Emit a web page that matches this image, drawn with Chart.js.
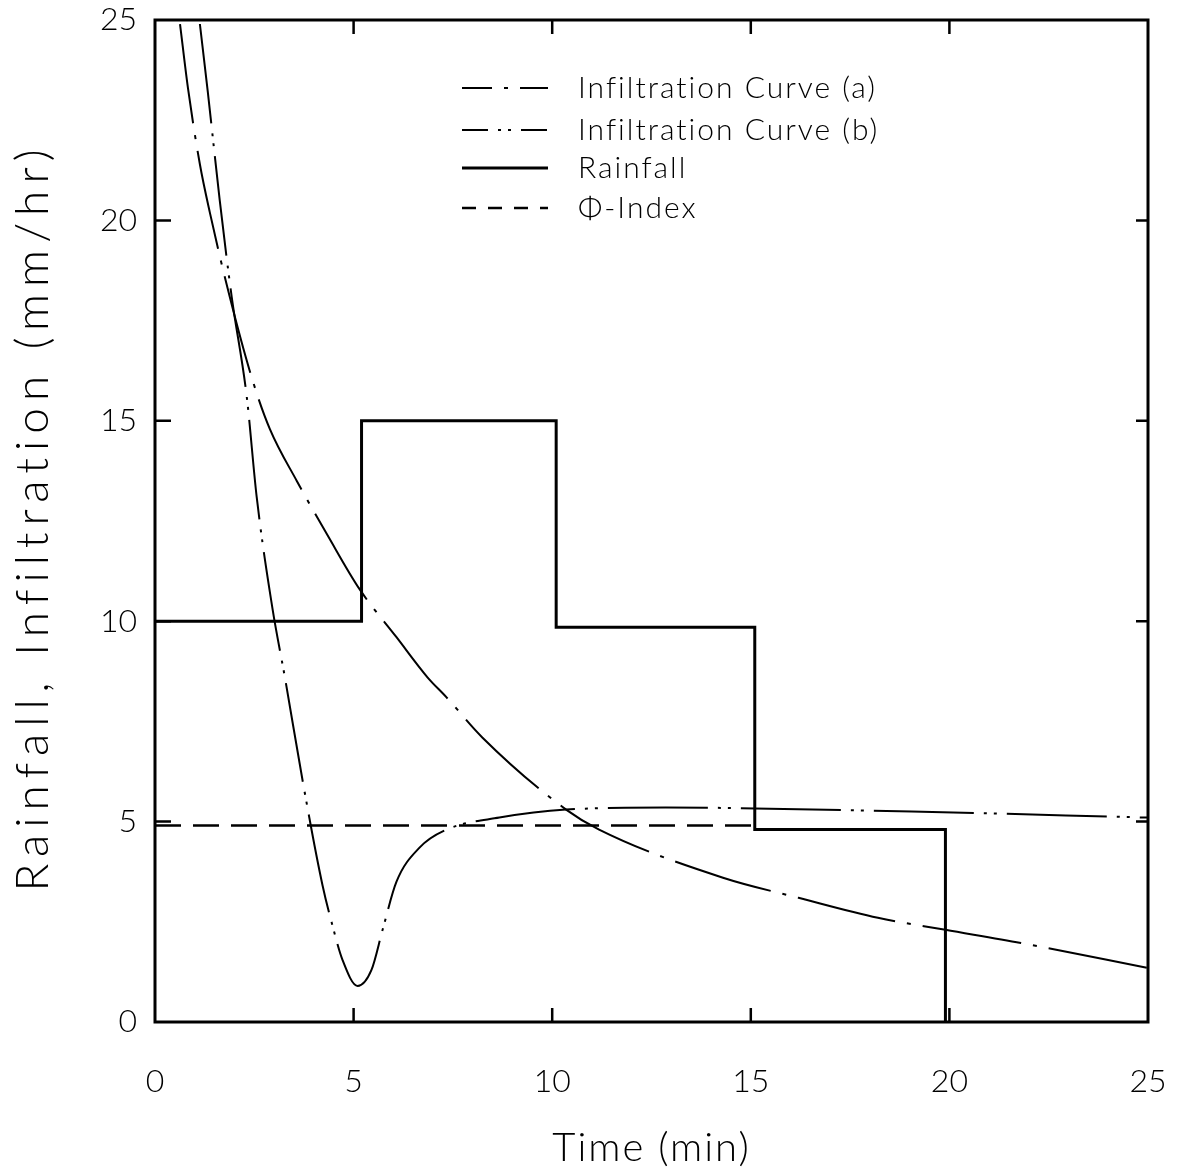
<!DOCTYPE html>
<html>
<head>
<meta charset="utf-8">
<script src="https://cdn.jsdelivr.net/npm/chart.js@4.4.1/dist/chart.umd.min.js"></script>
<style>
  html, body { margin: 0; padding: 0; background: #fff; }
  #wrap { width: 1179px; height: 1176px; }
</style>
</head>
<body>
<div id="wrap"><canvas id="infilChart" width="1179" height="1176"></canvas></div>
<script>
// values
const curveATime = [0.63, 0.83, 1.13, 1.38, 1.88, 2.46, 2.89, 3.57, 4.37, 5.15, 6.08, 6.86, 7.34, 8.24, 10.35, 11.18, 14.3, 16.2, 18.2, 19.9, 21.8, 25];
const curveARate = [24.9, 23.3, 21.4, 20.2, 18.1, 16.0, 14.8, 13.5, 12.1, 10.8, 9.6, 8.6, 8.1, 7.1, 5.3, 4.8, 3.6, 3.1, 2.6, 2.3, 1.97, 1.35];

const curveBTime = [1.13, 1.33, 1.63, 1.93, 2.31, 2.56, 2.96, 3.27, 3.72, 4.22, 4.47, 4.72, 5.1, 5.45, 5.73, 6.08, 6.66, 7.34, 8.67, 10.35, 12.86, 19.05, 25];
const curveBRate = [24.9, 23.2, 20.5, 18.1, 15.6, 13.1, 10.3, 8.6, 6.0, 3.4, 2.4, 1.55, 0.9, 1.3, 2.3, 3.5, 4.35, 4.8, 5.1, 5.3, 5.35, 5.25, 5.1];

const rainEdges = [0, 5.2, 10.1, 15.1, 19.9];
const rainRates = [10, 15, 9.85, 4.8, 0];

const phiTime = [0, 15.1];
const phiValue = [4.9, 4.9];

const xTicks = [0, 5, 10, 15, 20, 25];
const yTicks = [0, 5, 10, 15, 20, 25];

const xTitle = 'Time (min)';
const yTitle = 'Rainfall, Infiltration (mm/hr)';

function pts(xs, ys) {
  return xs.map((x, i) => ({ x: x, y: ys[i] }));
}

const FONT = "'Lato', 'DejaVu Sans', sans-serif";

// box, inward tick marks, titles and legend drawn on top of the chart
const framePlugin = {
  id: 'frame',
  afterDraw(chart) {
    const ctx = chart.ctx;
    const a = chart.chartArea;
    const xs = chart.scales.x, ys = chart.scales.y;
    ctx.save();
    ctx.strokeStyle = '#000';
    ctx.lineWidth = 3;
    ctx.strokeRect(a.left, a.top, a.right - a.left, a.bottom - a.top);
    ctx.lineWidth = 2.5;
    ctx.beginPath();
    xTicks.slice(1, -1).forEach(v => {
      const px = xs.getPixelForValue(v);
      ctx.moveTo(px, a.bottom); ctx.lineTo(px, a.bottom - 14);
      ctx.moveTo(px, a.top); ctx.lineTo(px, a.top + 14);
    });
    yTicks.slice(1, -1).forEach(v => {
      const py = ys.getPixelForValue(v);
      ctx.moveTo(a.left, py); ctx.lineTo(a.left + 16, py);
      ctx.moveTo(a.right, py); ctx.lineTo(a.right - 12, py);
    });
    ctx.stroke();

    ctx.fillStyle = '#000';
    ctx.textAlign = 'center';
    ctx.textBaseline = 'middle';

    // axis titles
    ctx.font = '300 40px ' + FONT;
    ctx.letterSpacing = '2px';
    ctx.fillText(xTitle, (a.left + a.right) / 2, 1148);
    ctx.save();
    ctx.translate(33, (a.top + a.bottom) / 2 - 4);
    ctx.rotate(-Math.PI / 2);
    ctx.font = '300 46px ' + FONT;
    ctx.letterSpacing = '7px';
    ctx.fillText(yTitle, 0, 0);
    ctx.restore();

    // legend
    const rows = [88, 130, 168, 208];
    ctx.font = '300 30px ' + FONT;
    ctx.letterSpacing = '2px';
    ctx.textAlign = 'left';
    chart.data.datasets.forEach((ds, i) => {
      const y = rows[i];
      ctx.beginPath();
      ctx.lineWidth = ds.borderWidth;
      ctx.setLineDash(ds.legendDash);
      ctx.moveTo(462, y); ctx.lineTo(548, y);
      ctx.stroke();
      ctx.setLineDash([]);
      ctx.fillText(ds.label, 578, y);
    });
    ctx.restore();
  }
};

new Chart(document.getElementById('infilChart'), {
  type: 'line',
  data: {
    datasets: [
      {
        label: 'Infiltration Curve (a)',
        data: pts(curveATime, curveARate),
        borderColor: '#000',
        borderWidth: 2,
        borderDash: [100, 12, 4, 12],
        legendDash: [30, 12, 4, 12],
        cubicInterpolationMode: 'monotone',
        pointRadius: 0
      },
      {
        label: 'Infiltration Curve (b)',
        data: pts(curveBTime, curveBRate),
        borderColor: '#000',
        borderWidth: 2,
        borderDash: [100, 10, 3, 7, 3, 10],
        legendDash: [26, 10, 3, 7, 3, 10],
        cubicInterpolationMode: 'monotone',
        pointRadius: 0
      },
      {
        label: 'Rainfall',
        data: pts(rainEdges, rainRates),
        borderColor: '#000',
        borderWidth: 3,
        borderDash: [],
        legendDash: [],
        stepped: true,
        pointRadius: 0
      },
      {
        label: '\u03A6-Index',
        data: pts(phiTime, phiValue),
        borderColor: '#000',
        borderWidth: 2.5,
        borderDash: [26, 12],
        legendDash: [14, 12],
        pointRadius: 0
      }
    ]
  },
  options: {
    responsive: false,
    animation: false,
    layout: { padding: { top: 20, right: 31, left: 0, bottom: 0 } },
    plugins: {
      legend: { display: false },
      tooltip: { enabled: false }
    },
    scales: {
      x: {
        type: 'linear',
        min: 0, max: 25,
        afterFit: s => { s.height = 154; s.paddingLeft = 0; s.paddingRight = 0; },
        afterBuildTicks: s => { s.ticks = xTicks.map(v => ({ value: v })); },
        grid: { display: false, drawTicks: false },
        border: { display: false },
        ticks: { color: '#000', padding: 40, font: { family: FONT, size: 32, weight: 300 } }
      },
      y: {
        type: 'linear',
        min: 0, max: 25,
        afterFit: s => { s.width = 155; s.paddingTop = 0; s.paddingBottom = 0; },
        afterBuildTicks: s => { s.ticks = yTicks.map(v => ({ value: v })); },
        grid: { display: false, drawTicks: false },
        border: { display: false },
        ticks: { color: '#000', padding: 18, font: { family: FONT, size: 32, weight: 300 } }
      }
    }
  },
  plugins: [framePlugin]
});
</script>
</body>
</html>
